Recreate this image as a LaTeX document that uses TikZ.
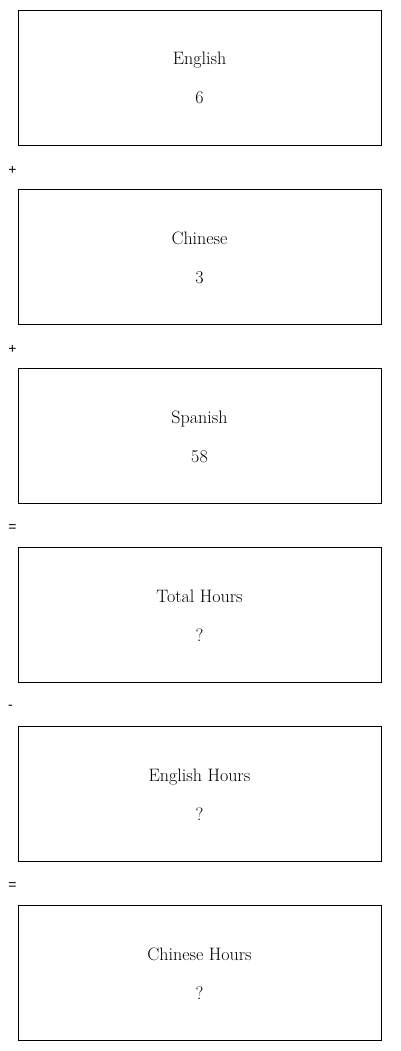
\documentclass[tikz,border=0pt]{standalone}
\usepackage{fontspec}
\newfontfamily\opfont{Liberation Sans}
\begin{document}
\begin{tikzpicture}[x=1pt,y=-1pt,
  card/.style={draw=black,line width=0.8pt,minimum width=363pt,minimum height=135pt,anchor=north west,inner sep=0pt},
  lbl/.style={font=\fontsize{18}{20}\selectfont,anchor=base,inner sep=0pt},
  opsign/.style={font=\opfont\fontsize{14}{16}\selectfont,anchor=center,inner sep=0pt}]
\useasboundingbox (0,0) rectangle (400,1051);
\node[card] (b1) at (18,10) {};
\node[card] (b2) at (18,189) {};
\node[card] (b3) at (18,368) {};
\node[card] (b4) at (18,547) {};
\node[card] (b5) at (18,726) {};
\node[card] (b6) at (18,905) {};
\node[lbl] (t1) at (199.5,65) {English};
\node[lbl] (v1) at (199.5,104) {6};
\node[lbl] (t2) at (199.5,244) {Chinese};
\node[lbl] (v2) at (199.5,283) {3};
\node[lbl] (t3) at (199.5,423) {Spanish};
\node[lbl] (v3) at (199.5,462) {58};
\node[lbl] (t4) at (199.5,602) {Total Hours};
\node[lbl] (v4) at (199.5,641) {?};
\node[lbl] (t5) at (199.5,781) {English Hours};
\node[lbl] (v5) at (199.5,820) {?};
\node[lbl] (t6) at (199.5,960) {Chinese Hours};
\node[lbl] (v6) at (199.5,999) {?};
\node[opsign] (o1) at (12.5,170.5) {+};
\node[opsign] (o2) at (12.5,349.5) {+};
\node[opsign] (o3) at (12.5,528) {=};
\node[opsign] (o4) at (10.5,707) {-};
\node[opsign] (o5) at (12.5,886) {=};
\end{tikzpicture}
\end{document}
